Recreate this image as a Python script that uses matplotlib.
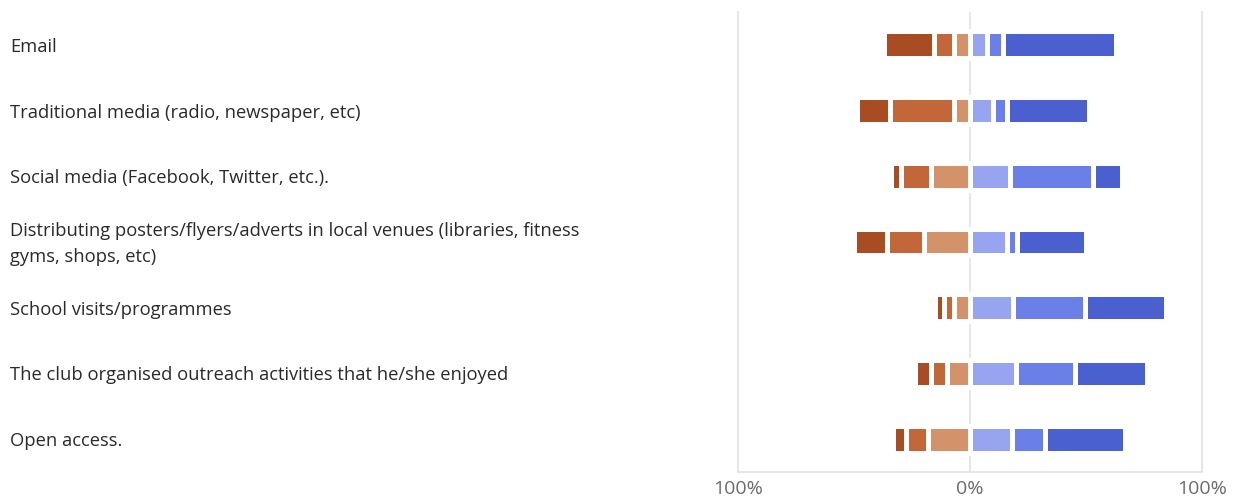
import numpy as np
import matplotlib.pyplot as plt
from matplotlib.transforms import blended_transform_factory, offset_copy

plt.rcParams['font.family'] = ['Open Sans', 'DejaVu Sans']

questions = [
    "Email",
    "Traditional media (radio, newspaper, etc)",
    "Social media (Facebook, Twitter, etc.).",
    "Distributing posters/flyers/adverts in local venues (libraries, fitness\ngyms, shops, etc)",
    "School visits/programmes",
    "The club organised outreach activities that he/she enjoyed",
    "Open access.",
]

# percentages, negative side (inner -> outer) and positive side (inner -> outer)
neg_strong = [21.3, 14.2, 4.2, 14.2, 4.0, 6.9, 5.6]
neg_mid = [8.6, 27.2, 12.9, 15.7, 4.3, 7.1, 9.8]
neg_weak = [7.1, 7.1, 17.0, 20.0, 6.9, 9.8, 18.0]
pos_weak = [7.2, 10.0, 17.2, 15.8, 18.4, 19.8, 18.2]
pos_mid = [7.1, 5.8, 35.9, 4.3, 31.1, 25.5, 14.0]
pos_strong = [48.5, 35.6, 12.6, 29.8, 34.9, 30.9, 34.5]

neg_colors = ['#d4926a', '#c1673a', '#a84c23']
pos_colors = ['#97a5f1', '#6a7fe7', '#4a60cf']

fig = plt.figure(figsize=(12.36, 4.99), dpi=100)
ax = fig.add_axes([738 / 1236, 1 - 472 / 499, 464 / 1236, 460 / 499])

y = np.arange(len(questions))
bar_h = 0.41

# negative side, stacked outwards from zero
left = np.zeros(len(questions))
for vals, c in zip([neg_weak, neg_mid, neg_strong], neg_colors):
    vals = np.array(vals)
    ax.barh(y, -vals, left=left, height=bar_h, color=c, edgecolor='white', linewidth=3.6)
    left -= vals

# positive side
left = np.zeros(len(questions))
for vals, c in zip([pos_weak, pos_mid, pos_strong], pos_colors):
    vals = np.array(vals)
    ax.barh(y, vals, left=left, height=bar_h, color=c, edgecolor='white', linewidth=3.6)
    left += vals

ax.axvline(0, color='#e2e2e2', linewidth=1.2, zorder=0)
ax.set_xlim(-100, 100)
ax.set_ylim(len(questions) - 0.5, -0.5)

for side in ['left', 'right', 'bottom']:
    ax.spines[side].set_color('#e2e2e2')
    ax.spines[side].set_linewidth(1.2)
ax.spines['top'].set_visible(False)

ax.set_yticks([])
ax.set_xticks([-100, 0, 100])
ax.set_xticklabels(['100%', '0%', '100%'])
ax.tick_params(axis='x', length=0, pad=6, labelsize=14, labelcolor='#6b6b6b')

trans = blended_transform_factory(fig.transFigure, ax.transData)
trans = offset_copy(trans, fig=fig, x=0, y=-2, units='dots')
for i, q in enumerate(questions):
    ax.text(10 / 1236, i, q, transform=trans, ha='left', va='center',
            fontsize=13.2, color='#2a2a2a', linespacing=1.55)

fig.savefig('out.png', dpi=100)
